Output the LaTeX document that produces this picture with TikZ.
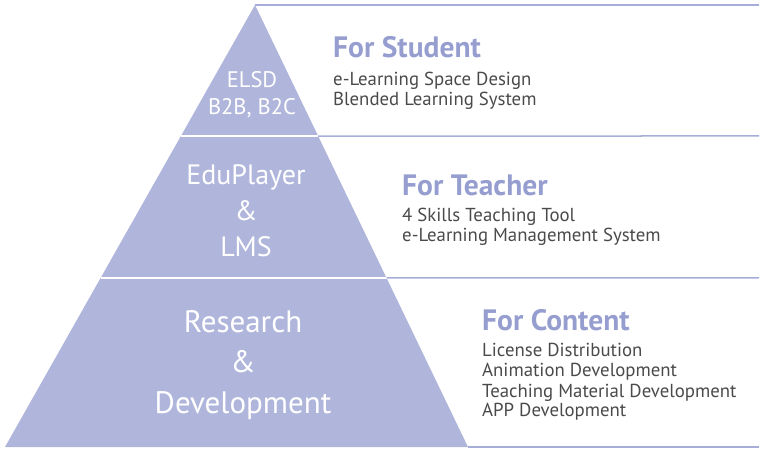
\documentclass[tikz,border=0pt]{standalone}
\usepackage{fontspec}
\setmainfont{PT Sans}
\usetikzlibrary{calc}
\definecolor{pyrfill}{RGB}{176,182,219}
\definecolor{rulecol}{RGB}{166,173,216}
\definecolor{headcol}{RGB}{150,158,208}
\definecolor{bodycol}{RGB}{74,74,74}
\tikzset{
  headtext/.style={anchor=base west,inner sep=0pt,text=headcol,font=\fontsize{29.5}{32}\selectfont\bfseries},
  bodytext/.style={anchor=base west,inner sep=0pt,text=bodycol,align=left,font=\fontsize{18.8}{20}\selectfont},
  pyrtext/.style={anchor=base,inner sep=0pt,text=white,align=center},
  tierrule/.style={draw=rulecol,line width=1.5pt},
  tiercut/.style={draw=white,line width=2pt}
}
\begin{document}
\begin{tikzpicture}[x=1pt,y=-1pt]%
\useasboundingbox (0,0) rectangle (766,454);%
% pyramid corners
\coordinate (apex) at (255,5);%
\coordinate (botleft) at (5,447);%
\coordinate (botright) at (468,447);%
\coordinate (cutAleft) at ($(apex)!0.2964!(botleft)$);%
\coordinate (cutAright) at ($(apex)!0.2964!(botright)$);%
\coordinate (cutBleft) at ($(apex)!0.6176!(botleft)$);%
\coordinate (cutBright) at ($(apex)!0.6176!(botright)$);%
\coordinate (endtop) at (759,5);%
\coordinate (endA) at (759,136);%
\coordinate (endB) at (759,278);%
\coordinate (endbot) at (759,447);%
\fill[pyrfill] (apex) -- (botright) -- (botleft) -- cycle;%
\draw[tiercut] (cutAleft) -- (cutAright);%
\draw[tiercut] (cutBleft) -- (cutBright);%
% rules to the right
\draw[tierrule] (apex) -- (endtop);%
\draw[tierrule] (cutAright) -- (endA);%
\draw[tierrule] (cutBright) -- (endB);%
\draw[tierrule] (botright) -- (endbot);%
% pyramid labels (base = last line)
\node[pyrtext,font=\fontsize{22.5}{27}\selectfont] (elsd) at (252,115) {ELSD\\B2B, B2C};%
\node[pyrtext,font=\fontsize{28}{36}\selectfont] (edu) at (246,257) {EduPlayer\\\&\\LMS};%
\node[pyrtext,font=\fontsize{31}{40.5}\selectfont] (rnd) at (243,413) {Research\\\&\\Development};%
% tier texts
\node[headtext] (student) at (333,58) {For Student};%
\node[bodytext] (studentlist) at (333,106) {e-Learning Space Design\\Blended Learning System};%
\node[headtext] (teacher) at (402,196) {For Teacher};%
\node[bodytext] (teacherlist) at (402,242) {4 Skills Teaching Tool\\e-Learning Management System};%
\node[headtext] (content) at (482,331) {For Content};%
\node[bodytext] (contentlist) at (482,417) {License Distribution\\Animation Development\\Teaching Material Development\\APP Development};%
\end{tikzpicture}
\end{document}
